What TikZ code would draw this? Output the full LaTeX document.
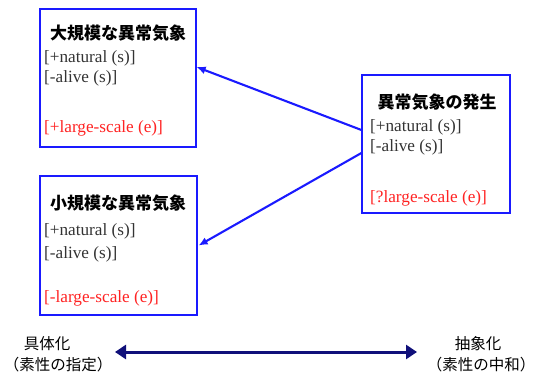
\documentclass[tikz,border=0pt]{standalone}
\usepackage{fontspec}
\setmainfont{Liberation Serif}
\newfontfamily\jp{Noto Sans CJK JP}
\usetikzlibrary{arrows.meta}
\definecolor{boxBlue}{HTML}{1A1AFF}
\definecolor{featGray}{HTML}{333333}
\definecolor{featRed}{HTML}{FF2222}
\definecolor{scaleNavy}{HTML}{10107A}

\tikzset{
    box/.style={draw=boxBlue, line width=1.2pt, minimum width=156pt, minimum height=138pt, inner sep=0pt},
    title/.style={font=\jp\bfseries\fontsize{17}{19}\selectfont, inner sep=0pt},
    feat/.style={anchor=west, text=featGray, font=\fontsize{17.2}{19}\selectfont, inner sep=0pt},
    featred/.style={feat, text=featRed},
    link/.style={draw=boxBlue, line width=2.1pt, -{Latex[length=9pt,width=8pt]}},
    endlabel/.style={font=\jp\fontsize{15.5}{18}\selectfont, inner sep=0pt}
}

\begin{document}
\begin{tikzpicture}[x=1pt, y=-1pt]
    \useasboundingbox (0,0) rectangle (540,374);

    % ---------- source box ----------
    \node[box, minimum width=148pt] (occur) at (436,144) {};
    \node[title] (occurT) at (437,102) {異常気象の発生};
    \node[feat] (occurA) at (370,127) {[+natural (s)]};
    \node[feat] (occurB) at (370,147) {[-alive (s)]};
    \node[featred] (occurC) at (370,198) {[?large-scale (e)]};

    % ---------- large-scale ----------
    \node[box] (large) at (118,78) {};
    \node[title] (largeT) at (118,33) {大規模な異常気象};
    \node[feat] (largeA) at (44,58) {[+natural (s)]};
    \node[feat] (largeB) at (44,78) {[-alive (s)]};
    \node[featred] (largeC) at (44,128) {[+large-scale (e)]};

    % ---------- small-scale ----------
    \node[box, minimum width=157pt, minimum height=139pt] (small) at (118.5,245.5) {};
    \node[title] (smallT) at (118,203) {小規模な異常気象};
    \node[feat] (smallA) at (44,231) {[+natural (s)]};
    \node[feat] (smallB) at (44,254) {[-alive (s)]};
    \node[featred] (smallC) at (44,298) {[-large-scale (e)]};

    % ---------- links ----------
    \draw[link] ([yshift=14pt]occur.west) -- ([yshift=11pt]large.east);
    \draw[link] ([yshift=-9pt]occur.west) -- ([xshift=1pt]small.east);

    % ---------- scale ----------
    \node[endlabel] (concA) at (47,344) {具体化};
    \node[endlabel] (concB) at (58,365) {（素性の指定）};
    \node[endlabel] (abstA) at (478,344) {抽象化};
    \node[endlabel] (abstB) at (481,365) {（素性の中和）};
    \coordinate (concEnd) at (115,352);
    \coordinate (abstEnd) at (417,352);
    \draw[scaleNavy, line width=3pt, {Triangle[length=11pt,width=14pt]}-{Triangle[length=11pt,width=14pt]}] (concEnd) -- (abstEnd);
\end{tikzpicture}
\end{document}
